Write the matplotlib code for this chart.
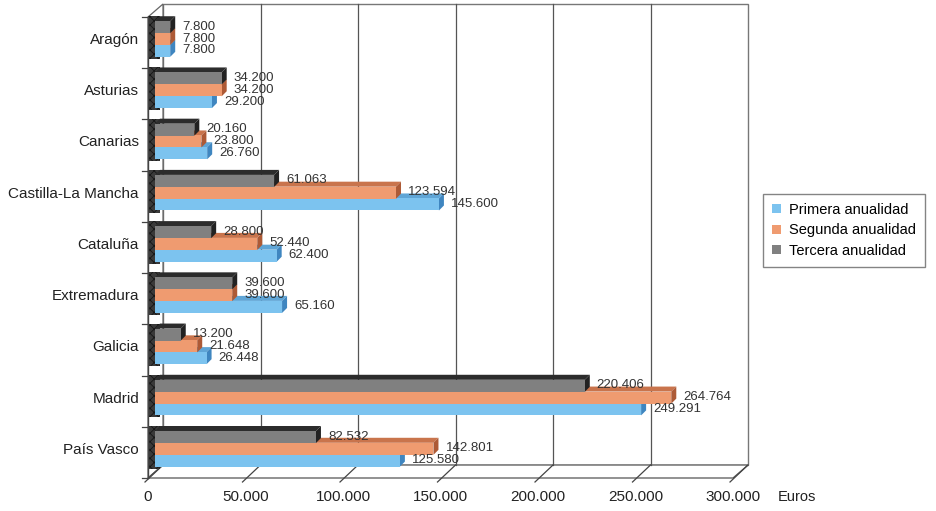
import matplotlib.pyplot as plt
from matplotlib.patches import Polygon, Rectangle, Patch

plt.rcParams['font.family'] = ['Liberation Sans', 'DejaVu Sans']
plt.rcParams['hatch.color'] = '#161616'
plt.rcParams['hatch.linewidth'] = 0.6

# datos (euros)
regiones = ['Aragón', 'Asturias', 'Canarias', 'Castilla-La Mancha', 'Cataluña',
            'Extremadura', 'Galicia', 'Madrid', 'País Vasco']
primera = [7800, 29200, 26760, 145600, 62400, 65160, 26448, 249291, 125580]
segunda = [7800, 34200, 23800, 123594, 52440, 39600, 21648, 264764, 142801]
tercera = [7800, 34200, 20160, 61063, 28800, 39600, 13200, 220406, 82532]
xticks = [0, 50000, 100000, 150000, 200000, 250000, 300000]
series = ['Primera anualidad', 'Segunda anualidad', 'Tercera anualidad']


def miles(v):
    return f'{v:,}'.replace(',', '.')


W, H = 936, 511
fig = plt.figure(figsize=(W / 100, H / 100), dpi=100)
ax = fig.add_axes([148 / W, (H - 478) / H, (733 - 148) / W, (478 - 17) / H])
ax.set_xlim(0, 300000)
ax.set_ylim(9, 0)
ax.axis('off')

# conversion pixel -> datos
px = 300000 / 585
py = 9 / 461
dxw, dyw = 15 * px, 13 * py      # profundidad de las paredes
x_off = 7 * px                    # inicio de las barras
dxb, dyb = 5 * px, 5 * py         # profundidad de las barras
h = 0.235

kw = dict(clip_on=False)
# pared del fondo
ax.add_patch(Polygon([(dxw, -dyw), (300000 + dxw, -dyw), (300000 + dxw, 9 - dyw), (dxw, 9 - dyw)],
                     closed=True, facecolor='white', edgecolor='#777777', lw=1.0, zorder=1, **kw))
for t in xticks[1:-1]:
    ax.plot([t + dxw, t + dxw], [-dyw, 9 - dyw], color='#555555', lw=0.9, zorder=1.5, **kw)
# pared izquierda
ax.add_patch(Polygon([(0, 0), (dxw, -dyw), (dxw, 9 - dyw), (0, 9)], closed=True,
                     facecolor='white', edgecolor='#666666', lw=0.9, zorder=1.2, **kw))
# suelo
ax.add_patch(Polygon([(0, 9), (300000, 9), (300000 + dxw, 9 - dyw), (dxw, 9 - dyw)], closed=True,
                     facecolor='white', edgecolor='#555555', lw=0.9, zorder=1.2, **kw))
for t in xticks:
    ax.plot([t + dxw, t - 3 * px], [9 - dyw, 9 + 4 * py], color='#444444', lw=0.9, zorder=1.6, **kw)
# eje y
ax.plot([0, 0], [0, 9], color='#444444', lw=1.0, zorder=6, **kw)
for i in range(10):
    ax.plot([-6 * px, 0], [i, i], color='#444444', lw=0.9, zorder=6, **kw)

colores = {
    'Primera anualidad': ('#7cc3ef', '#5fa5d6', '#3f86c0'),
    'Segunda anualidad': ('#ef9b70', '#c9744c', '#ad5a36'),
    'Tercera anualidad': ('#808080', '#2c2c2c', '#222222'),
}
centros = {'Tercera anualidad': 0.2, 'Segunda anualidad': 0.43, 'Primera anualidad': 0.66}
valores = {'Primera anualidad': primera, 'Segunda anualidad': segunda, 'Tercera anualidad': tercera}

for i, reg in enumerate(regiones):
    # franja oscura a la izquierda
    ytop = i + centros['Tercera anualidad'] - h / 2 - dyb
    ybot = i + centros['Primera anualidad'] + h / 2 + 0.04
    ax.add_patch(Rectangle((0, ytop), x_off + dxb, ybot - ytop, facecolor='#3a3a3a',
                           edgecolor='#161616', hatch='xxxx', lw=0, zorder=2, **kw))
    z = 3
    for s in ['Primera anualidad', 'Segunda anualidad', 'Tercera anualidad']:
        v = valores[s][i]
        fc, tc, sc = colores[s]
        yc = i + centros[s]
        top, bot = yc - h / 2, yc + h / 2
        ax.add_patch(Polygon([(x_off, top), (x_off + v, top), (x_off + v + dxb, top - dyb),
                              (x_off + dxb, top - dyb)], closed=True, facecolor=tc, lw=0, zorder=z, **kw))
        ax.add_patch(Polygon([(x_off + v, top), (x_off + v + dxb, top - dyb), (x_off + v + dxb, bot - dyb),
                              (x_off + v, bot)], closed=True, facecolor=sc, lw=0, zorder=z, **kw))
        ax.add_patch(Rectangle((x_off, top), v, h, facecolor=fc, lw=0, zorder=z + 0.1, **kw))
        ax.text(x_off + v + dxb + 7 * px, yc - 0.01, miles(v), ha='left', va='center',
                fontsize=9.5, color='#333333', zorder=8)
        z += 1
    ax.text(-9 * px, i + 0.45, reg, ha='right', va='center', fontsize=11, color='#222222')

for t in xticks:
    ax.text(t, 9 + 19 * py, miles(t), ha='center', va='center', fontsize=11, color='#222222')
ax.text(300000 + 45 * px, 9 + 19 * py, 'Euros', ha='left', va='center', fontsize=10.5, color='#222222')

handles = [Patch(facecolor=colores[s][0], label=s) for s in series]
fig.legend(handles=handles, loc='upper left', bbox_to_anchor=(763 / W, 1 - 194 / H),
           frameon=True, fancybox=False, edgecolor='#666666', fontsize=10.5,
           handlelength=0.6, handleheight=0.6, handletextpad=0.6, borderpad=0.6,
           labelspacing=0.45, borderaxespad=0)

fig.savefig('out.png', dpi=100)
